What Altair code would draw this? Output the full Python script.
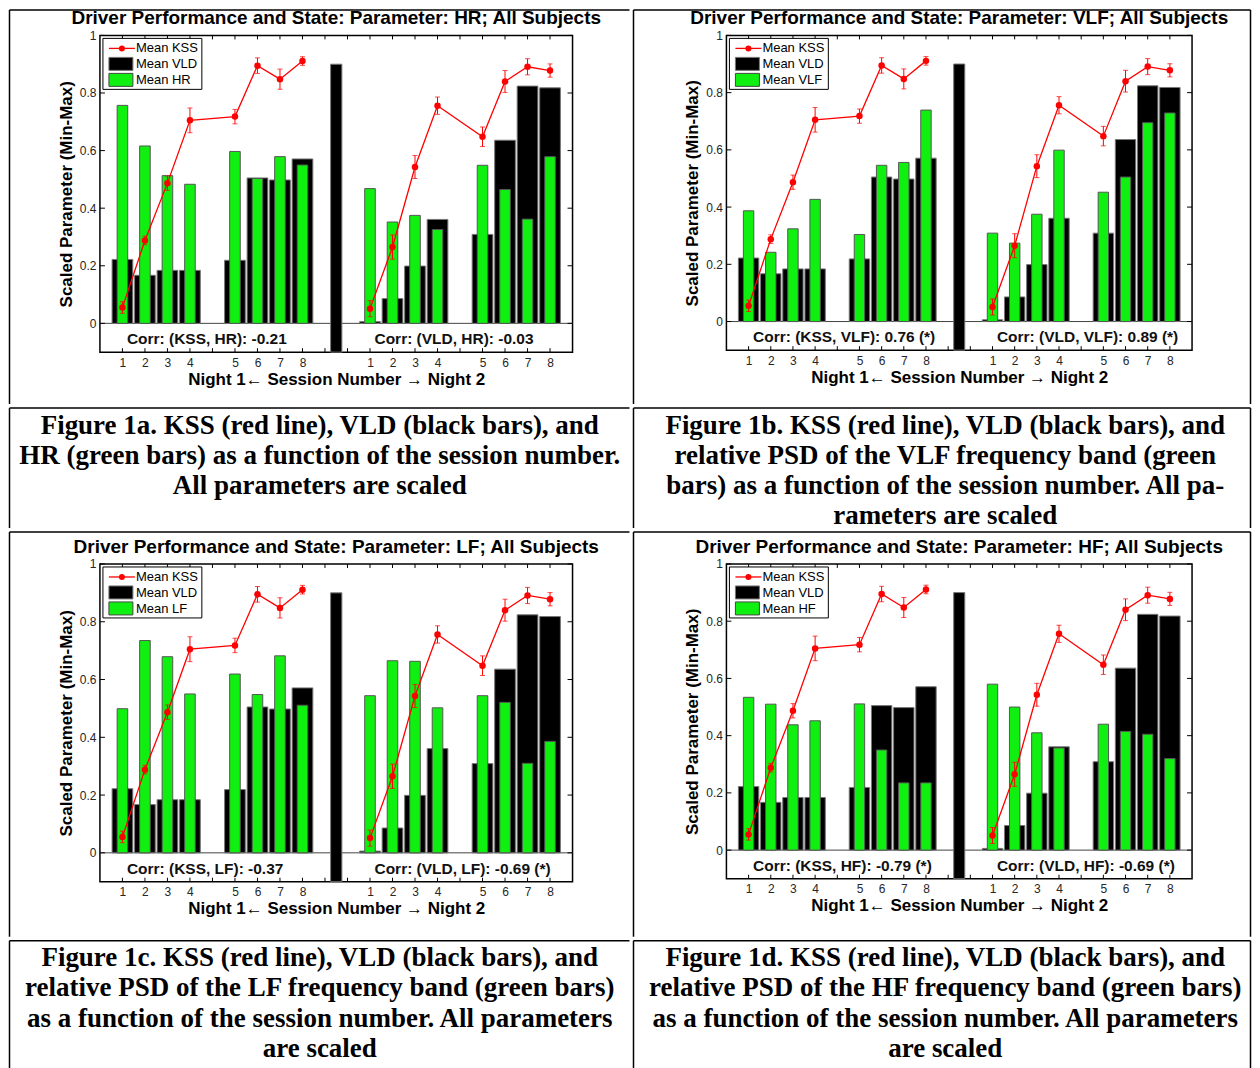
import json
import altair as alt
import pandas as pd

FONT = "Liberation Sans"
SERIF = "Liberation Serif"

# ---------------- data ----------------
pos_night1 = [1, 2, 3, 4, 6, 7, 8, 9]
pos_night2 = [12, 13, 14, 15, 17, 18, 19, 20]
session_labels = ["1", "2", "3", "4", "5", "6", "7", "8"]
tick_positions = list(range(1, 21))
y_ticks = [0, 0.2, 0.4, 0.6, 0.8, 1]

kss_night1 = [0.055, 0.288, 0.487, 0.705, 0.718, 0.895, 0.848, 0.911]
kss_err_night1 = [0.020, 0.015, 0.025, 0.043, 0.025, 0.027, 0.035, 0.015]
kss_night2 = [0.051, 0.265, 0.543, 0.756, 0.648, 0.840, 0.891, 0.878]
kss_err_night2 = [0.028, 0.042, 0.040, 0.030, 0.034, 0.038, 0.028, 0.023]

vld_night1 = [0.222, 0.167, 0.184, 0.184, 0.219, 0.505, 0.498, 0.571]
vld_night2 = [0.006, 0.086, 0.199, 0.361, 0.309, 0.636, 0.824, 0.818]

hr_night1 = [0.757, 0.616, 0.513, 0.483, 0.597, 0.503, 0.579, 0.550]
hr_night2 = [0.468, 0.352, 0.375, 0.326, 0.549, 0.465, 0.362, 0.579]
vlf_night1 = [0.387, 0.242, 0.324, 0.427, 0.304, 0.546, 0.556, 0.739]
vlf_night2 = [0.309, 0.274, 0.375, 0.599, 0.452, 0.505, 0.695, 0.729]
lf_night1 = [0.499, 0.735, 0.679, 0.550, 0.619, 0.548, 0.682, 0.511]
lf_night2 = [0.544, 0.665, 0.663, 0.502, 0.544, 0.521, 0.310, 0.386]
hf_night1 = [0.534, 0.510, 0.438, 0.452, 0.511, 0.350, 0.235, 0.235]
hf_night2 = [0.580, 0.500, 0.410, 0.357, 0.440, 0.415, 0.405, 0.320]

separator_pos = [10.5]
separator_low = [-0.1]
separator_high = [0.9]

corr_texts = {
    "HR": ["Corr: (KSS, HR): -0.21", "Corr: (VLD, HR): -0.03"],
    "VLF": ["Corr: (KSS, VLF): 0.76 (*)", "Corr: (VLD, VLF): 0.89 (*)"],
    "LF": ["Corr: (KSS, LF): -0.37", "Corr: (VLD, LF): -0.69 (*)"],
    "HF": ["Corr: (KSS, HF): -0.79 (*)", "Corr: (VLD, HF): -0.69 (*)"],
}

captions = {
    "HR": ["Figure 1a. KSS (red line), VLD (black bars), and",
           "HR (green bars) as a function of the session number.",
           "All parameters are scaled"],
    "VLF": ["Figure 1b. KSS (red line), VLD (black bars), and",
            "relative PSD of the VLF frequency band (green",
            "bars) as a function of the session number. All pa-",
            "rameters are scaled"],
    "LF": ["Figure 1c. KSS (red line), VLD (black bars), and",
           "relative PSD of the LF frequency band (green bars)",
           "as a function of the session number. All parameters",
           "are scaled"],
    "HF": ["Figure 1d. KSS (red line), VLD (black bars), and",
           "relative PSD of the HF frequency band (green bars)",
           "as a function of the session number. All parameters",
           "are scaled"],
}

GREEN = "#10f010"
ONE = pd.DataFrame({"k": [0]})
LINE_W = 1.5


def cell_frame(L, R, T, B, draw_right, draw_bottom):
    """Invisible rect fixing the cell bounds plus visible table lines."""
    layers = [alt.Chart(ONE).mark_rect(fill="white", fillOpacity=0, strokeOpacity=0).encode(
        x=alt.value(L), x2=alt.value(R), y=alt.value(T), y2=alt.value(B))]
    layers.append(alt.Chart(ONE).mark_rule(color="black", strokeWidth=LINE_W).encode(
        x=alt.value(L), y=alt.value(T), y2=alt.value(B)))
    layers.append(alt.Chart(ONE).mark_rule(color="black", strokeWidth=LINE_W).encode(
        y=alt.value(T), x=alt.value(L), x2=alt.value(R)))
    if draw_right:
        layers.append(alt.Chart(ONE).mark_rule(color="black", strokeWidth=LINE_W).encode(
            x=alt.value(R), y=alt.value(T), y2=alt.value(B)))
    if draw_bottom:
        layers.append(alt.Chart(ONE).mark_rule(color="black", strokeWidth=LINE_W).encode(
            y=alt.value(B), x=alt.value(L), x2=alt.value(R)))
    return layers


def panel(param, g1, g2, W, H, L, R, T, B, draw_right):
    pos = pos_night1 + pos_night2
    bars = pd.DataFrame({"pos": pos, "vld": vld_night1 + vld_night2, "green": g1 + g2})
    kss = pd.DataFrame({
        "pos": pos,
        "kss": kss_night1 + kss_night2,
        "err": kss_err_night1 + kss_err_night2,
        "night": ["1"] * 8 + ["2"] * 8,
    })
    sep = pd.DataFrame({"pos": separator_pos, "lo": separator_low, "hi": separator_high})
    ticks_x = pd.DataFrame({"t": tick_positions})
    ticks_y = pd.DataFrame({"v": y_ticks})
    corr = pd.DataFrame({"x": [1.2, 12.2], "y": [-0.055, -0.055], "t": corr_texts[param]})

    xs = alt.Scale(domain=[0, 21], nice=False, zero=False)
    ys = alt.Scale(domain=[-0.1, 1.0], nice=False, zero=False)

    label_arr = [""] * 22
    for p, l in zip(pos, session_labels * 2):
        label_arr[p] = l
    xaxis = alt.Axis(values=pos, labelExpr=json.dumps(label_arr) + "[datum.value]",
                     ticks=False, domain=False, grid=False, labelPadding=5,
                     labelFontSize=12, labelFont=FONT, labelColor="#262626",
                     labelFlush=False, labelOverlap=False,
                     title="Night 1\u2190  Session Number \u2192 Night 2",
                     titleFont=FONT, titleFontSize=17, titleFontWeight="bold",
                     titleColor="black", titlePadding=3)
    yaxis = alt.Axis(values=y_ticks, format="~g", ticks=False, domain=False, grid=False,
                     labelPadding=4, labelFontSize=12, labelFont=FONT, labelColor="#262626",
                     labelFlush=False,
                     title="Scaled Parameter (Min-Max)", titleFont=FONT, titleFontSize=17,
                     titleFontWeight="bold", titleColor="black", titlePadding=4)

    X = lambda f: alt.X(f, scale=xs, axis=xaxis)
    Y = lambda f: alt.Y(f, scale=ys, axis=yaxis)

    zero = alt.Chart(pd.DataFrame({"z": [0]})).mark_rule(color="#444", strokeWidth=1).encode(
        x=alt.value(0), x2=alt.value(W), y=Y("z:Q"))

    black = alt.Chart(bars).transform_calculate(
        x0="datum.pos - 0.46", x1="datum.pos + 0.46", base="0"
    ).mark_rect(color="black", stroke="#777", strokeWidth=1).encode(
        x=X("x0:Q"), x2="x1:Q", y=Y("vld:Q"), y2="base:Q")

    sepbar = alt.Chart(sep).transform_calculate(
        x0="datum.pos - 0.25", x1="datum.pos + 0.25"
    ).mark_rect(color="black", stroke="#777", strokeWidth=1).encode(
        x=X("x0:Q"), x2="x1:Q", y=Y("lo:Q"), y2="hi:Q")

    green = alt.Chart(bars).transform_calculate(
        x0="datum.pos - 0.235", x1="datum.pos + 0.235", base="0"
    ).mark_rect(color=GREEN, stroke="#555", strokeWidth=1).encode(
        x=X("x0:Q"), x2="x1:Q", y=Y("green:Q"), y2="base:Q")

    kbase = alt.Chart(kss).transform_calculate(
        lo="datum.kss - datum.err", hi="datum.kss + datum.err")
    line = kbase.mark_line(color="#ff0000", strokeWidth=1.3).encode(
        x=X("pos:Q"), y=Y("kss:Q"), detail="night:N")
    err = kbase.mark_rule(color="#ff0000", strokeWidth=1).encode(
        x=X("pos:Q"), y=Y("lo:Q"), y2="hi:Q")
    cap_lo = kbase.mark_tick(color="#ff0000", orient="horizontal", size=5, thickness=1).encode(
        x=X("pos:Q"), y=Y("lo:Q"))
    cap_hi = kbase.mark_tick(color="#ff0000", orient="horizontal", size=5, thickness=1).encode(
        x=X("pos:Q"), y=Y("hi:Q"))
    pts = kbase.mark_circle(color="#ff0000", size=42, opacity=1).encode(
        x=X("pos:Q"), y=Y("kss:Q"))

    corr_txt = alt.Chart(corr).mark_text(font=FONT, fontSize=15.5, fontWeight="bold",
                                         align="left", baseline="middle", color="#111").encode(
        x=X("x:Q"), y=Y("y:Q"), text="t:N")

    tb = alt.Chart(ticks_x).mark_rule(color="black", strokeWidth=1).encode(
        x=X("t:Q"), y=alt.value(H), y2=alt.value(H - 4))
    tt = alt.Chart(ticks_x).mark_rule(color="black", strokeWidth=1).encode(
        x=X("t:Q"), y=alt.value(0), y2=alt.value(4))
    tl = alt.Chart(ticks_y).mark_rule(color="black", strokeWidth=1).encode(
        y=Y("v:Q"), x=alt.value(0), x2=alt.value(5))
    tr = alt.Chart(ticks_y).mark_rule(color="black", strokeWidth=1).encode(
        y=Y("v:Q"), x=alt.value(W), x2=alt.value(W - 5))

    # legend
    lbox = alt.Chart(ONE).mark_rect(fill="white", stroke="black", strokeWidth=1).encode(
        x=alt.value(3), x2=alt.value(102), y=alt.value(3), y2=alt.value(54))
    lline = alt.Chart(ONE).mark_rule(color="#ff0000", strokeWidth=1.3).encode(
        x=alt.value(9), x2=alt.value(35), y=alt.value(13))
    ldot = alt.Chart(ONE).mark_circle(color="#ff0000", size=36, opacity=1).encode(
        x=alt.value(22), y=alt.value(13))
    lblack = alt.Chart(ONE).mark_rect(color="black", stroke="#777", strokeWidth=1).encode(
        x=alt.value(9), x2=alt.value(33), y=alt.value(22), y2=alt.value(35))
    lgreen = alt.Chart(ONE).mark_rect(color=GREEN, stroke="#444", strokeWidth=1).encode(
        x=alt.value(9), x2=alt.value(33), y=alt.value(38), y2=alt.value(51))
    ltexts = []
    for txt, yy in zip(["Mean KSS", "Mean VLD", "Mean " + param], [13, 29, 45]):
        ltexts.append(alt.Chart(ONE).mark_text(font=FONT, fontSize=13, align="left",
                                               baseline="middle", color="black").encode(
            x=alt.value(36), y=alt.value(yy), text=alt.value(txt)))

    title = alt.Chart(ONE).mark_text(font=FONT, fontSize=19, fontWeight="bold",
                                     align="center", baseline="middle", color="black").encode(
        x=alt.value(W / 2), y=alt.value(-17),
        text=alt.value(f"Driver Performance and State: Parameter: {param}; All Subjects"))

    frame = cell_frame(L, R, T, B, draw_right, False)

    return alt.layer(zero, black, sepbar, green, line, err, cap_lo, cap_hi, pts, corr_txt,
                     tb, tt, tl, tr, lbox, lline, ldot, lblack, lgreen, *ltexts, title, *frame
                     ).properties(width=W, height=H,
                                  view=alt.ViewBackground(stroke="black", strokeWidth=1.5))


def caption(lines, W, Hc, L, R, text_x, ybase, line_h, draw_right, draw_bottom):
    frame = cell_frame(L, R, 0, Hc, draw_right, draw_bottom)
    txt = alt.Chart(ONE).mark_text(font=SERIF, fontSize=27, fontWeight="bold", align="center",
                                   baseline="alphabetic", lineHeight=line_h, color="black").encode(
        x=alt.value(text_x), y=alt.value(ybase), text=alt.value(lines))
    return alt.layer(*frame, txt).properties(
        width=W, height=Hc, view=alt.ViewBackground(stroke="transparent"))


# left column: plot at x=100 ; right column: plot at x=726
LA, RA = -90.5, 530
LB, RB = -93, 524.5
pa = panel("HR", hr_night1, hr_night2, 473, 317, LA, RA, -25.5, 369, False)
pb = panel("VLF", vlf_night1, vlf_night2, 466, 315, LB, RB, -25.5, 369, True)
pc = panel("LF", lf_night1, lf_night2, 473, 318, LA, RA, -32, 373, False)
pdd = panel("HF", hf_night1, hf_night2, 466, 315, LB, RB, -32, 373, True)

ca = caption(captions["HR"], 473, 120, LA, RA, 220, 26, 30.2, False, False)
cb = caption(captions["VLF"], 466, 120, LB, RB, 219, 25.5, 30.2, True, False)
cc = caption(captions["LF"], 473, 132, LA, RA, 220, 25, 30.6, False, False)
cd = caption(captions["HF"], 466, 132, LB, RB, 219, 25, 30.6, True, False)

chart = alt.vconcat(
    alt.hconcat(pa, pb, spacing=0),
    alt.hconcat(ca, cb, spacing=0),
    alt.hconcat(pc, pdd, spacing=0),
    alt.hconcat(cc, cd, spacing=0),
    spacing=0,
).properties(padding={"left": 0, "top": 0, "right": 0, "bottom": 0}).configure(
    font=FONT).configure_concat(spacing=0)

chart.save("out.html", embed_options={"renderer": "svg", "actions": False})
